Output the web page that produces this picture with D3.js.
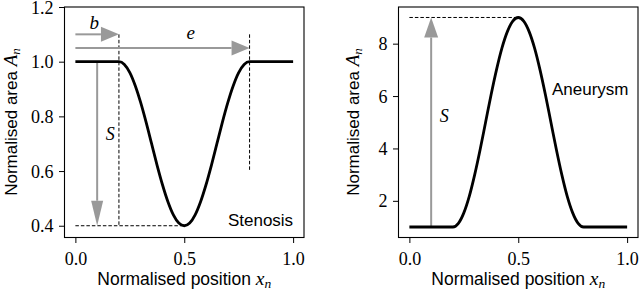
<!DOCTYPE html>
<html>
<head>
<meta charset="utf-8">
<script src="https://cdn.jsdelivr.net/npm/d3@7/dist/d3.min.js"></script>
<style>
  html, body { margin: 0; padding: 0; background: #fff; }
  svg { display: block; }
</style>
</head>
<body>
<svg id="chart" width="640" height="290"></svg>
<script>
// ---------------- data ----------------
const xPos = [0, 0.2, 0.225, 0.25, 0.275, 0.3, 0.325, 0.35, 0.375, 0.4, 0.425, 0.45, 0.475, 0.5,
              0.525, 0.55, 0.575, 0.6, 0.625, 0.65, 0.675, 0.7, 0.725, 0.75, 0.775, 0.8, 1.0];
const stenosisArea = [1.0, 1.0, 0.99, 0.96, 0.912, 0.85, 0.778, 0.70, 0.622, 0.55, 0.488, 0.44, 0.41, 0.40,
                      0.41, 0.44, 0.488, 0.55, 0.622, 0.70, 0.778, 0.85, 0.912, 0.96, 0.99, 1.0, 1.0];
const aneurysmArea = [1, 1, 1.14, 1.54, 2.17, 3.0, 3.96, 5.0, 6.04, 7.0, 7.83, 8.46, 8.86, 9.0,
                      8.86, 8.46, 7.83, 7.0, 6.04, 5.0, 3.96, 3.0, 2.17, 1.54, 1.14, 1, 1];
const xTicks = [0, 0.5, 1.0];
const xTickLabels = ["0.0", "0.5", "1.0"];
const yTicksLeft = [0.4, 0.6, 0.8, 1.0, 1.2];
const yTickLabelsLeft = ["0.4", "0.6", "0.8", "1.0", "1.2"];
const yTicksRight = [2, 4, 6, 8];
const yTickLabelsRight = ["2", "4", "6", "8"];
// annotation anchors
const stenosisBegin = 0.2, stenosisEnd = 0.8, stenosisMin = 0.4, stenosisMid = 0.5;
const aneurysmPeak = 9, aneurysmBase = 1;

// ---------------- drawing ----------------
const svg = d3.select("#chart");
const GRAY = "#999999";
const tickFont = "'Liberation Serif', 'DejaVu Serif', serif";
const sansFont = "'Liberation Sans', Arial, sans-serif";
const mathFont = "'Liberation Serif', 'DejaVu Serif', serif";

function panel(opts) {
  const g = svg.append("g");
  const x = d3.scaleLinear().domain([-0.05, 1.05]).range([opts.left, opts.right]);
  const y = d3.scaleLinear().domain(opts.yDomain).range([237.5, 7]);

  // x axis
  const xa = g.append("g").attr("transform", `translate(0,237.5)`)
    .call(d3.axisBottom(x).tickValues(xTicks).tickFormat((d, i) => xTickLabels[i]).tickSize(5.5).tickSizeOuter(0));
  xa.select(".domain").remove();
  xa.selectAll("line").attr("stroke", "#000").attr("stroke-width", 1);
  xa.selectAll("text").attr("y", 27.5).attr("dy", 0)
    .style("font-family", tickFont).style("font-size", "18px").attr("fill", "#000");

  // y axis
  const ya = g.append("g").attr("transform", `translate(${opts.left},0)`)
    .call(d3.axisLeft(y).tickValues(opts.yTicks).tickFormat((d, i) => opts.yTickLabels[i]).tickSize(5.5).tickSizeOuter(0));
  ya.select(".domain").remove();
  ya.selectAll("line").attr("stroke", "#000").attr("stroke-width", 1);
  ya.selectAll("text").attr("x", -11).attr("dy", "0.34em")
    .style("font-family", tickFont).style("font-size", "18px").attr("fill", "#000");

  // frame
  g.append("rect").attr("x", opts.left).attr("y", 7)
    .attr("width", opts.right - opts.left).attr("height", 230.5)
    .attr("fill", "none").attr("stroke", "#000").attr("stroke-width", 1.1);

  // x label
  const xl = g.append("text").attr("x", x(0.5)).attr("y", 284.5).attr("text-anchor", "middle")
    .style("font-family", sansFont).style("font-size", "17.5px");
  xl.append("tspan").text("Normalised position ");
  xl.append("tspan").text("x").style("font-family", mathFont).style("font-style", "italic").style("font-size", "19.5px");
  xl.append("tspan").text("n").attr("dy", 3).style("font-family", mathFont).style("font-style", "italic").style("font-size", "13.5px");

  // y label
  const yl = g.append("text").attr("transform", `translate(${opts.ylabelX},122) rotate(-90)`)
    .attr("text-anchor", "middle").style("font-family", sansFont).style("font-size", "17px");
  yl.append("tspan").text("Normalised area ");
  yl.append("tspan").text("A").style("font-family", mathFont).style("font-style", "italic").style("font-size", "19px");
  yl.append("tspan").text("n").attr("dy", 3).style("font-family", mathFont).style("font-style", "italic").style("font-size", "13px");

  return { g, x, y };
}

function arrow(g, x1, y1, x2, y2, headLen, headWid) {
  const dx = x2 - x1, dy = y2 - y1, L = Math.hypot(dx, dy);
  const ux = dx / L, uy = dy / L;
  const bx = x2 - ux * headLen, by = y2 - uy * headLen;
  g.append("line").attr("x1", x1).attr("y1", y1).attr("x2", bx).attr("y2", by)
    .attr("stroke", GRAY).attr("stroke-width", 2);
  const px = -uy, py = ux;
  g.append("path")
    .attr("d", `M${x2},${y2}L${bx + px * headWid / 2},${by + py * headWid / 2}L${bx - px * headWid / 2},${by - py * headWid / 2}Z`)
    .attr("fill", GRAY);
}

function dashed(g, x1, y1, x2, y2) {
  g.append("line").attr("x1", x1).attr("y1", y1).attr("x2", x2).attr("y2", y2)
    .attr("stroke", "#000").attr("stroke-width", 1).attr("stroke-dasharray", "3.5,2");
}

const line = (x, y) => d3.line().x(d => x(d[0])).y(d => y(d[1])).curve(d3.curveMonotoneX);

// ---- left panel (stenosis)
const L = panel({ left: 64.5, right: 304, yDomain: [0.357, 1.2], yTicks: yTicksLeft, yTickLabels: yTickLabelsLeft, ylabelX: 17 });
{
  const { g, x, y } = L;
  dashed(g, x(stenosisBegin), y(1.1), x(stenosisBegin), y(stenosisMin));
  dashed(g, x(stenosisEnd), y(1.1), x(stenosisEnd), y(0.6));
  dashed(g, x(0), y(stenosisMin), x(stenosisMid), y(stenosisMin));
  arrow(g, x(0), y(1.1), x(stenosisBegin), y(1.1), 18, 15);
  arrow(g, x(0), y(1.05), x(stenosisEnd), y(1.05), 18, 15);
  arrow(g, x(0.1), y(1.0), x(0.1), y(stenosisMin), 25, 12);
  g.append("path").datum(xPos.map((v, i) => [v, stenosisArea[i]]))
    .attr("d", line(x, y)).attr("fill", "none").attr("stroke", "#000").attr("stroke-width", 2.8)
    .attr("stroke-linejoin", "round");
  g.append("text").attr("x", x(0.065)).attr("y", y(1.12)).text("b")
    .style("font-family", mathFont).style("font-style", "italic").style("font-size", "19px");
  g.append("text").attr("x", x(0.51)).attr("y", y(1.082)).text("e")
    .style("font-family", mathFont).style("font-style", "italic").style("font-size", "19px");
  g.append("text").attr("x", x(0.14)).attr("y", y(0.715)).text("S")
    .style("font-family", mathFont).style("font-style", "italic").style("font-size", "18px");
  g.append("text").attr("x", x(1.0)).attr("y", y(0.4)).attr("text-anchor", "end").text("Stenosis")
    .style("font-family", sansFont).style("font-size", "17px");
}

// ---- right panel (aneurysm)
const R = panel({ left: 398.5, right: 638, yDomain: [0.6, 9.4], yTicks: yTicksRight, yTickLabels: yTickLabelsRight, ylabelX: 359 });
{
  const { g, x, y } = R;
  dashed(g, x(0), y(aneurysmPeak), x(0.5), y(aneurysmPeak));
  arrow(g, x(0.1), y(aneurysmBase), x(0.1), y(aneurysmPeak), 20, 14);
  g.append("path").datum(xPos.map((v, i) => [v, aneurysmArea[i]]))
    .attr("d", line(x, y)).attr("fill", "none").attr("stroke", "#000").attr("stroke-width", 2.8)
    .attr("stroke-linejoin", "round");
  g.append("text").attr("x", x(0.14)).attr("y", y(5.0)).text("S")
    .style("font-family", mathFont).style("font-style", "italic").style("font-size", "18px");
  g.append("text").attr("x", x(0.655)).attr("y", y(6.05)).text("Aneurysm")
    .style("font-family", sansFont).style("font-size", "17px");
}
</script>
</body>
</html>
